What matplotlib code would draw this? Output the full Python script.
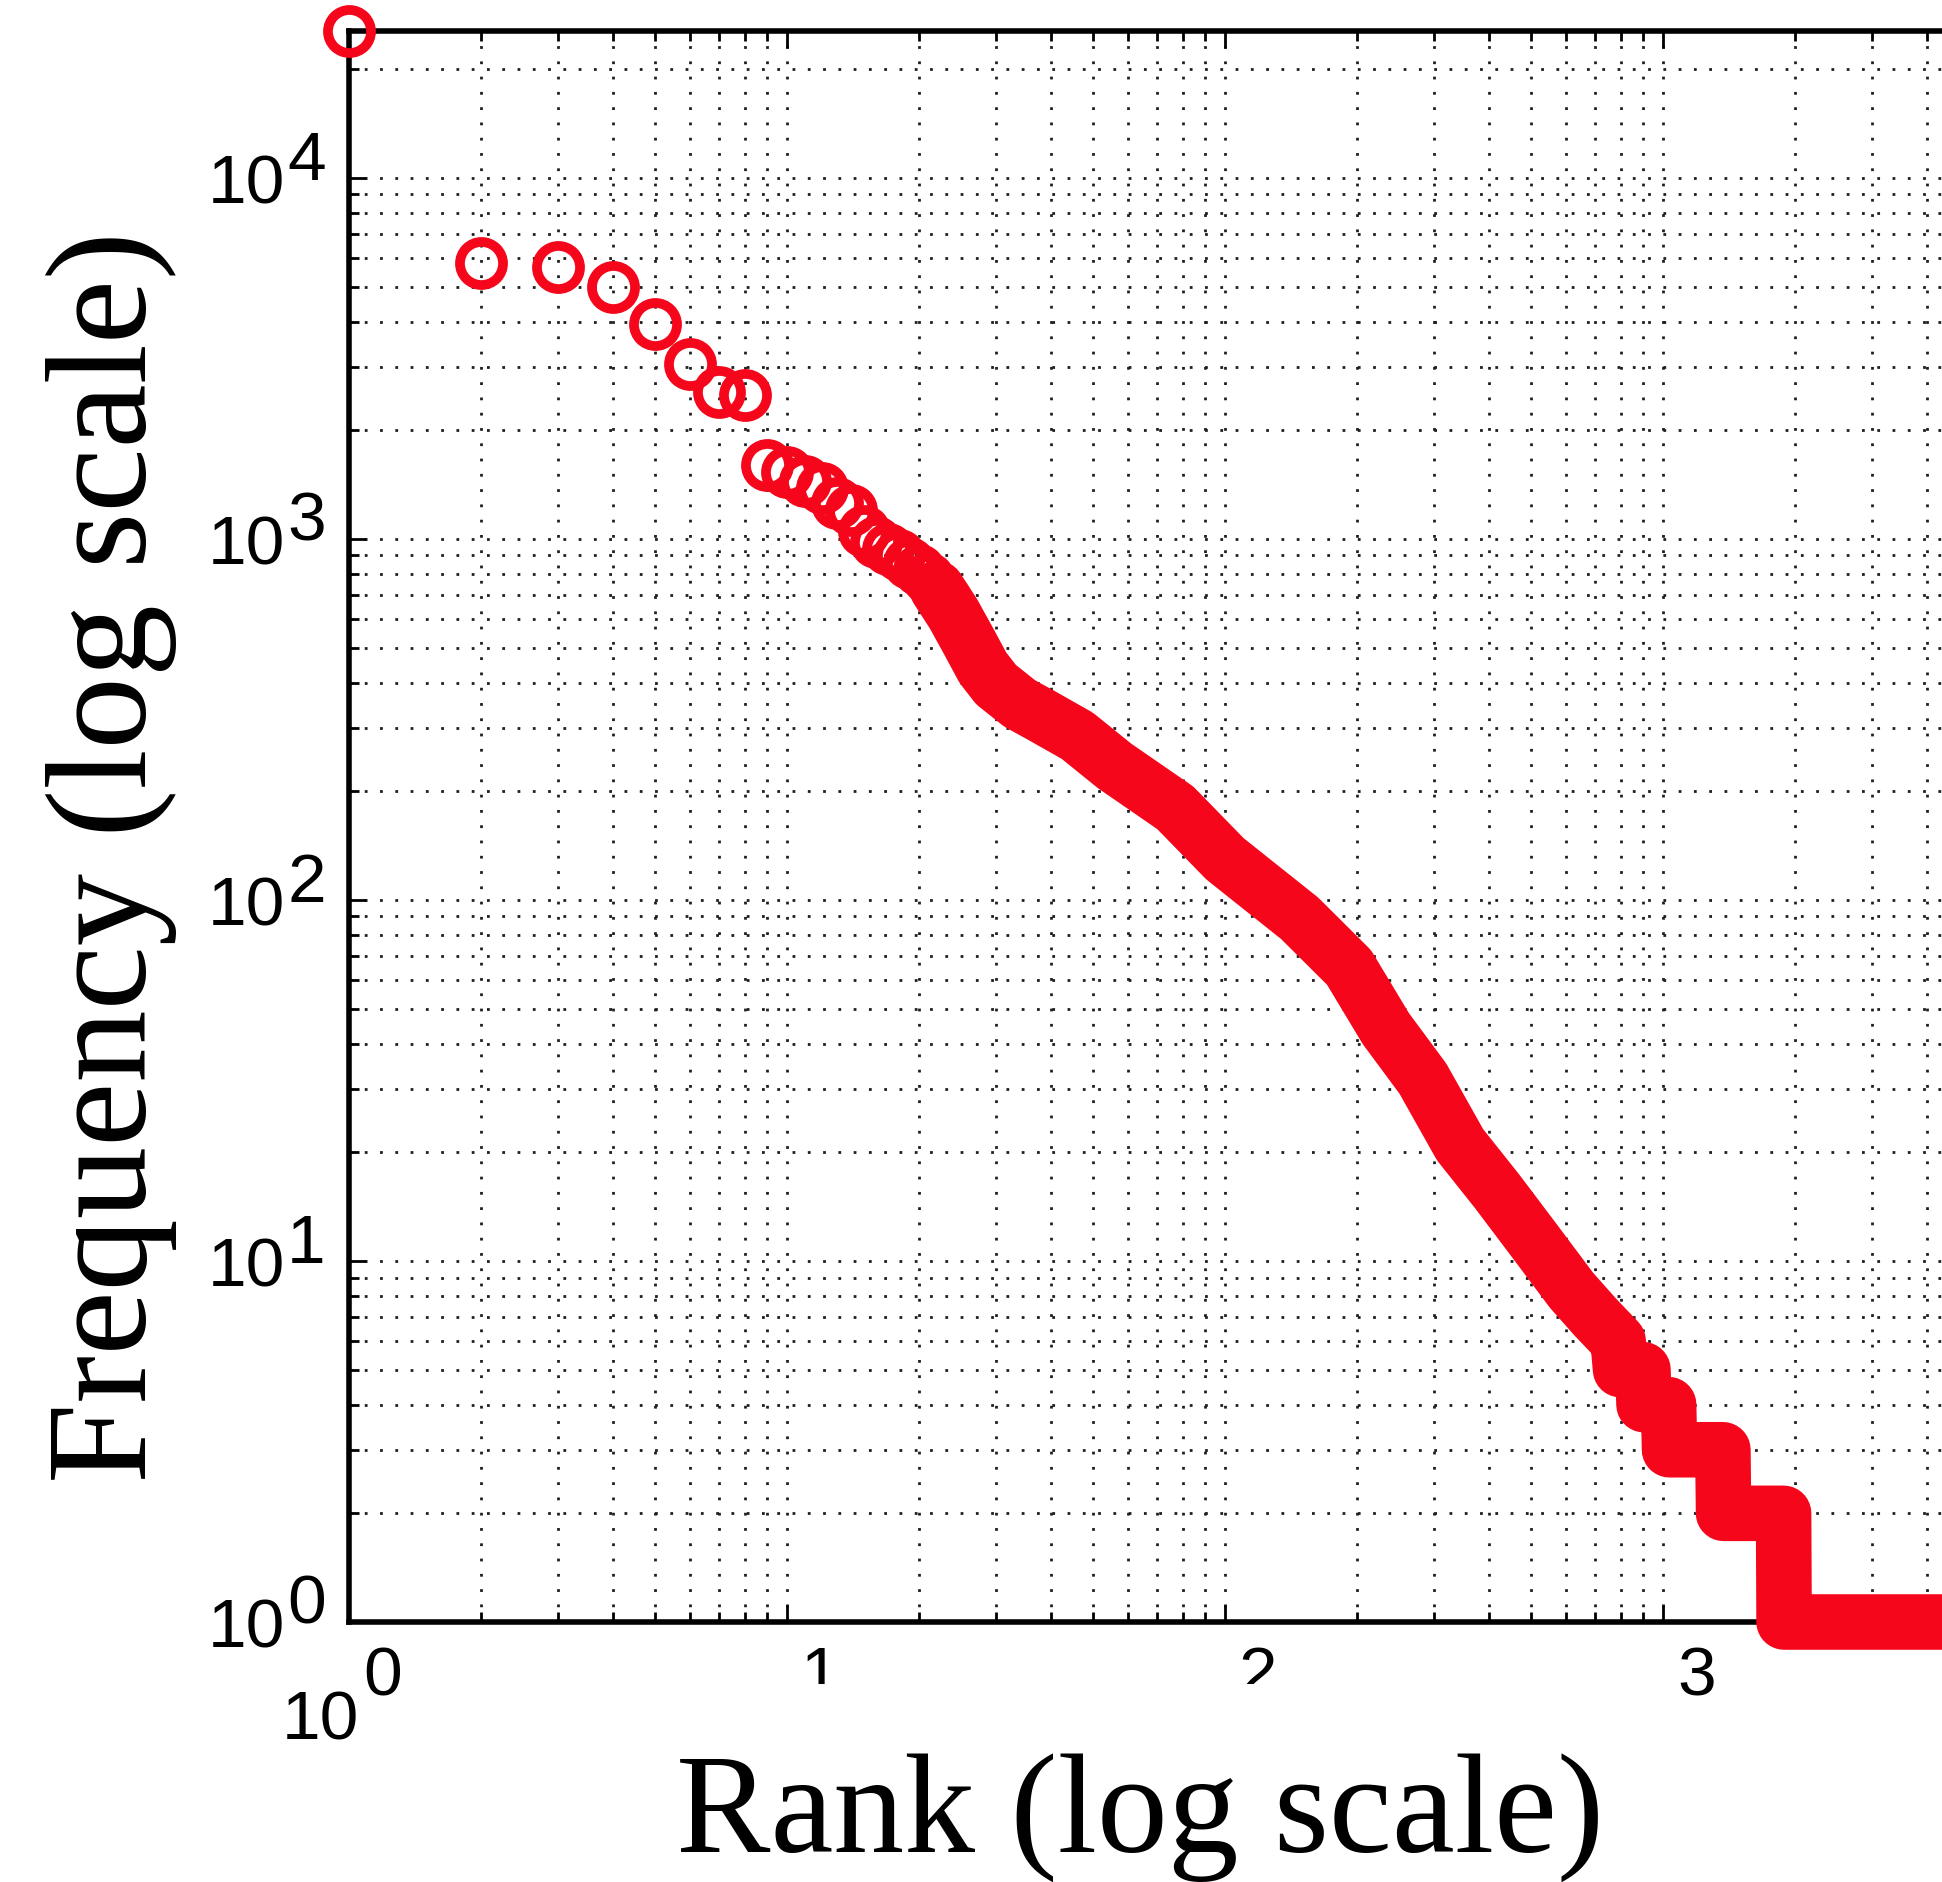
import numpy as np
import matplotlib.pyplot as plt
from matplotlib.ticker import LogLocator, NullFormatter
from matplotlib.transforms import Bbox, TransformedBbox

# 上位の単語 (白抜きの丸で個別に見える部分)
rank_top = [1, 2, 3, 4, 5, 6, 7, 8, 9, 10, 11, 12, 13, 14, 15, 16, 17, 18,
            19, 20, 21, 22, 23, 24]
freq_top = [25500, 5800, 5650, 5000, 3950, 3050, 2550, 2500, 1600, 1530,
            1450, 1380, 1260, 1200, 1050, 980, 940, 900, 860, 820, 780, 730,
            680, 620]

# 丸が重なって帯になる部分 (順位, 頻度)
rank_tail = [22, 24, 26, 28, 30, 34, 38, 46, 56, 77, 100, 148, 192, 233,
             283, 344, 418, 508, 618, 700, 790, 800, 900, 905, 1030, 1035,
             1370, 1375, 1885, 1890, 6000]
freq_tail = [730, 620, 520, 440, 395, 350, 325, 285, 235, 180, 130, 89, 65,
             44, 32, 21, 15.6, 11.4, 8.3, 7, 6, 5, 5, 4, 4, 3, 3, 2, 2, 1, 1]

x_exp = [0, 1, 2, 3]
y_exp = [0, 1, 2, 3, 4]

red = "#f5061a"
W, H = 1942, 1882

fig = plt.figure(figsize=(W / 100, H / 100), dpi=100)
# 軸は右側で画像の外まで伸びている
ax = fig.add_axes([349 / W, 1 - 1622 / H, 4 * 438 / W, (1622 - 31) / H])
ax.set_xscale("log")
ax.set_yscale("log")
ax.set_xlim(1, 1e4)
ax.set_ylim(1, 10 ** 4.407)

ax.plot(rank_tail, freq_tail, color=red, lw=40, solid_capstyle="round",
        solid_joinstyle="round", clip_on=False, zorder=3)
ax.plot(rank_top, freq_top, "o", ms=31, mew=7, mec=red, mfc="none",
        clip_on=False, zorder=3)

# 目盛り (MATLAB風)
for axis in (ax.xaxis, ax.yaxis):
    axis.set_major_locator(LogLocator(base=10, numticks=100))
    axis.set_minor_locator(LogLocator(base=10, subs=np.arange(2, 10), numticks=100))
    axis.set_major_formatter(NullFormatter())
    axis.set_minor_formatter(NullFormatter())
ax.tick_params(which="both", direction="in", top=True, right=True, width=2)
ax.tick_params(which="major", length=12)
ax.tick_params(which="minor", length=7)
for s in ax.spines.values():
    s.set_linewidth(4)

ax.grid(True, which="both", color="0.12", lw=2, ls=(0, (1, 4.5)))

tick_font = dict(fontsize=50, family="Liberation Sans", color="black")

# y軸ラベル 10^n
for e in y_exp:
    ax.annotate("10", xy=(0, 10 ** e), xycoords=("axes fraction", "data"),
                xytext=(-64, -26), textcoords="offset pixels",
                ha="right", va="baseline", **tick_font)
    ax.annotate(str(e), xy=(0, 10 ** e), xycoords=("axes fraction", "data"),
                xytext=(-62, -2), textcoords="offset pixels",
                ha="left", va="baseline", **tick_font)

# x軸ラベル (10^0 以外は指数だけ見えている)
ax.annotate("10", xy=(1, 0), xycoords=("data", "axes fraction"),
            xytext=(10, -118), textcoords="offset pixels",
            ha="right", va="baseline", **tick_font)
clip = TransformedBbox(Bbox([[0, 198 / H], [1, 1]]), fig.transFigure)
for e in x_exp:
    t = ax.annotate(str(e), xy=(10 ** e, 0), xycoords=("data", "axes fraction"),
                    xytext=(14, -73), textcoords="offset pixels",
                    ha="left", va="baseline", **tick_font)
    if e in (1, 2):
        t.set_clip_on(True)
        t.set_clip_box(clip)

fig.text(1140 / W, 1 - 1852 / H, "Rank (log scale)", ha="center", va="baseline",
         fontsize=102, family="Liberation Serif")
fig.text(111 / W, 1 - 857 / H, "Frequency (log scale)", rotation=90,
         ha="center", va="center", fontsize=104, family="Liberation Serif")

plt.savefig("out.png", dpi=100)
